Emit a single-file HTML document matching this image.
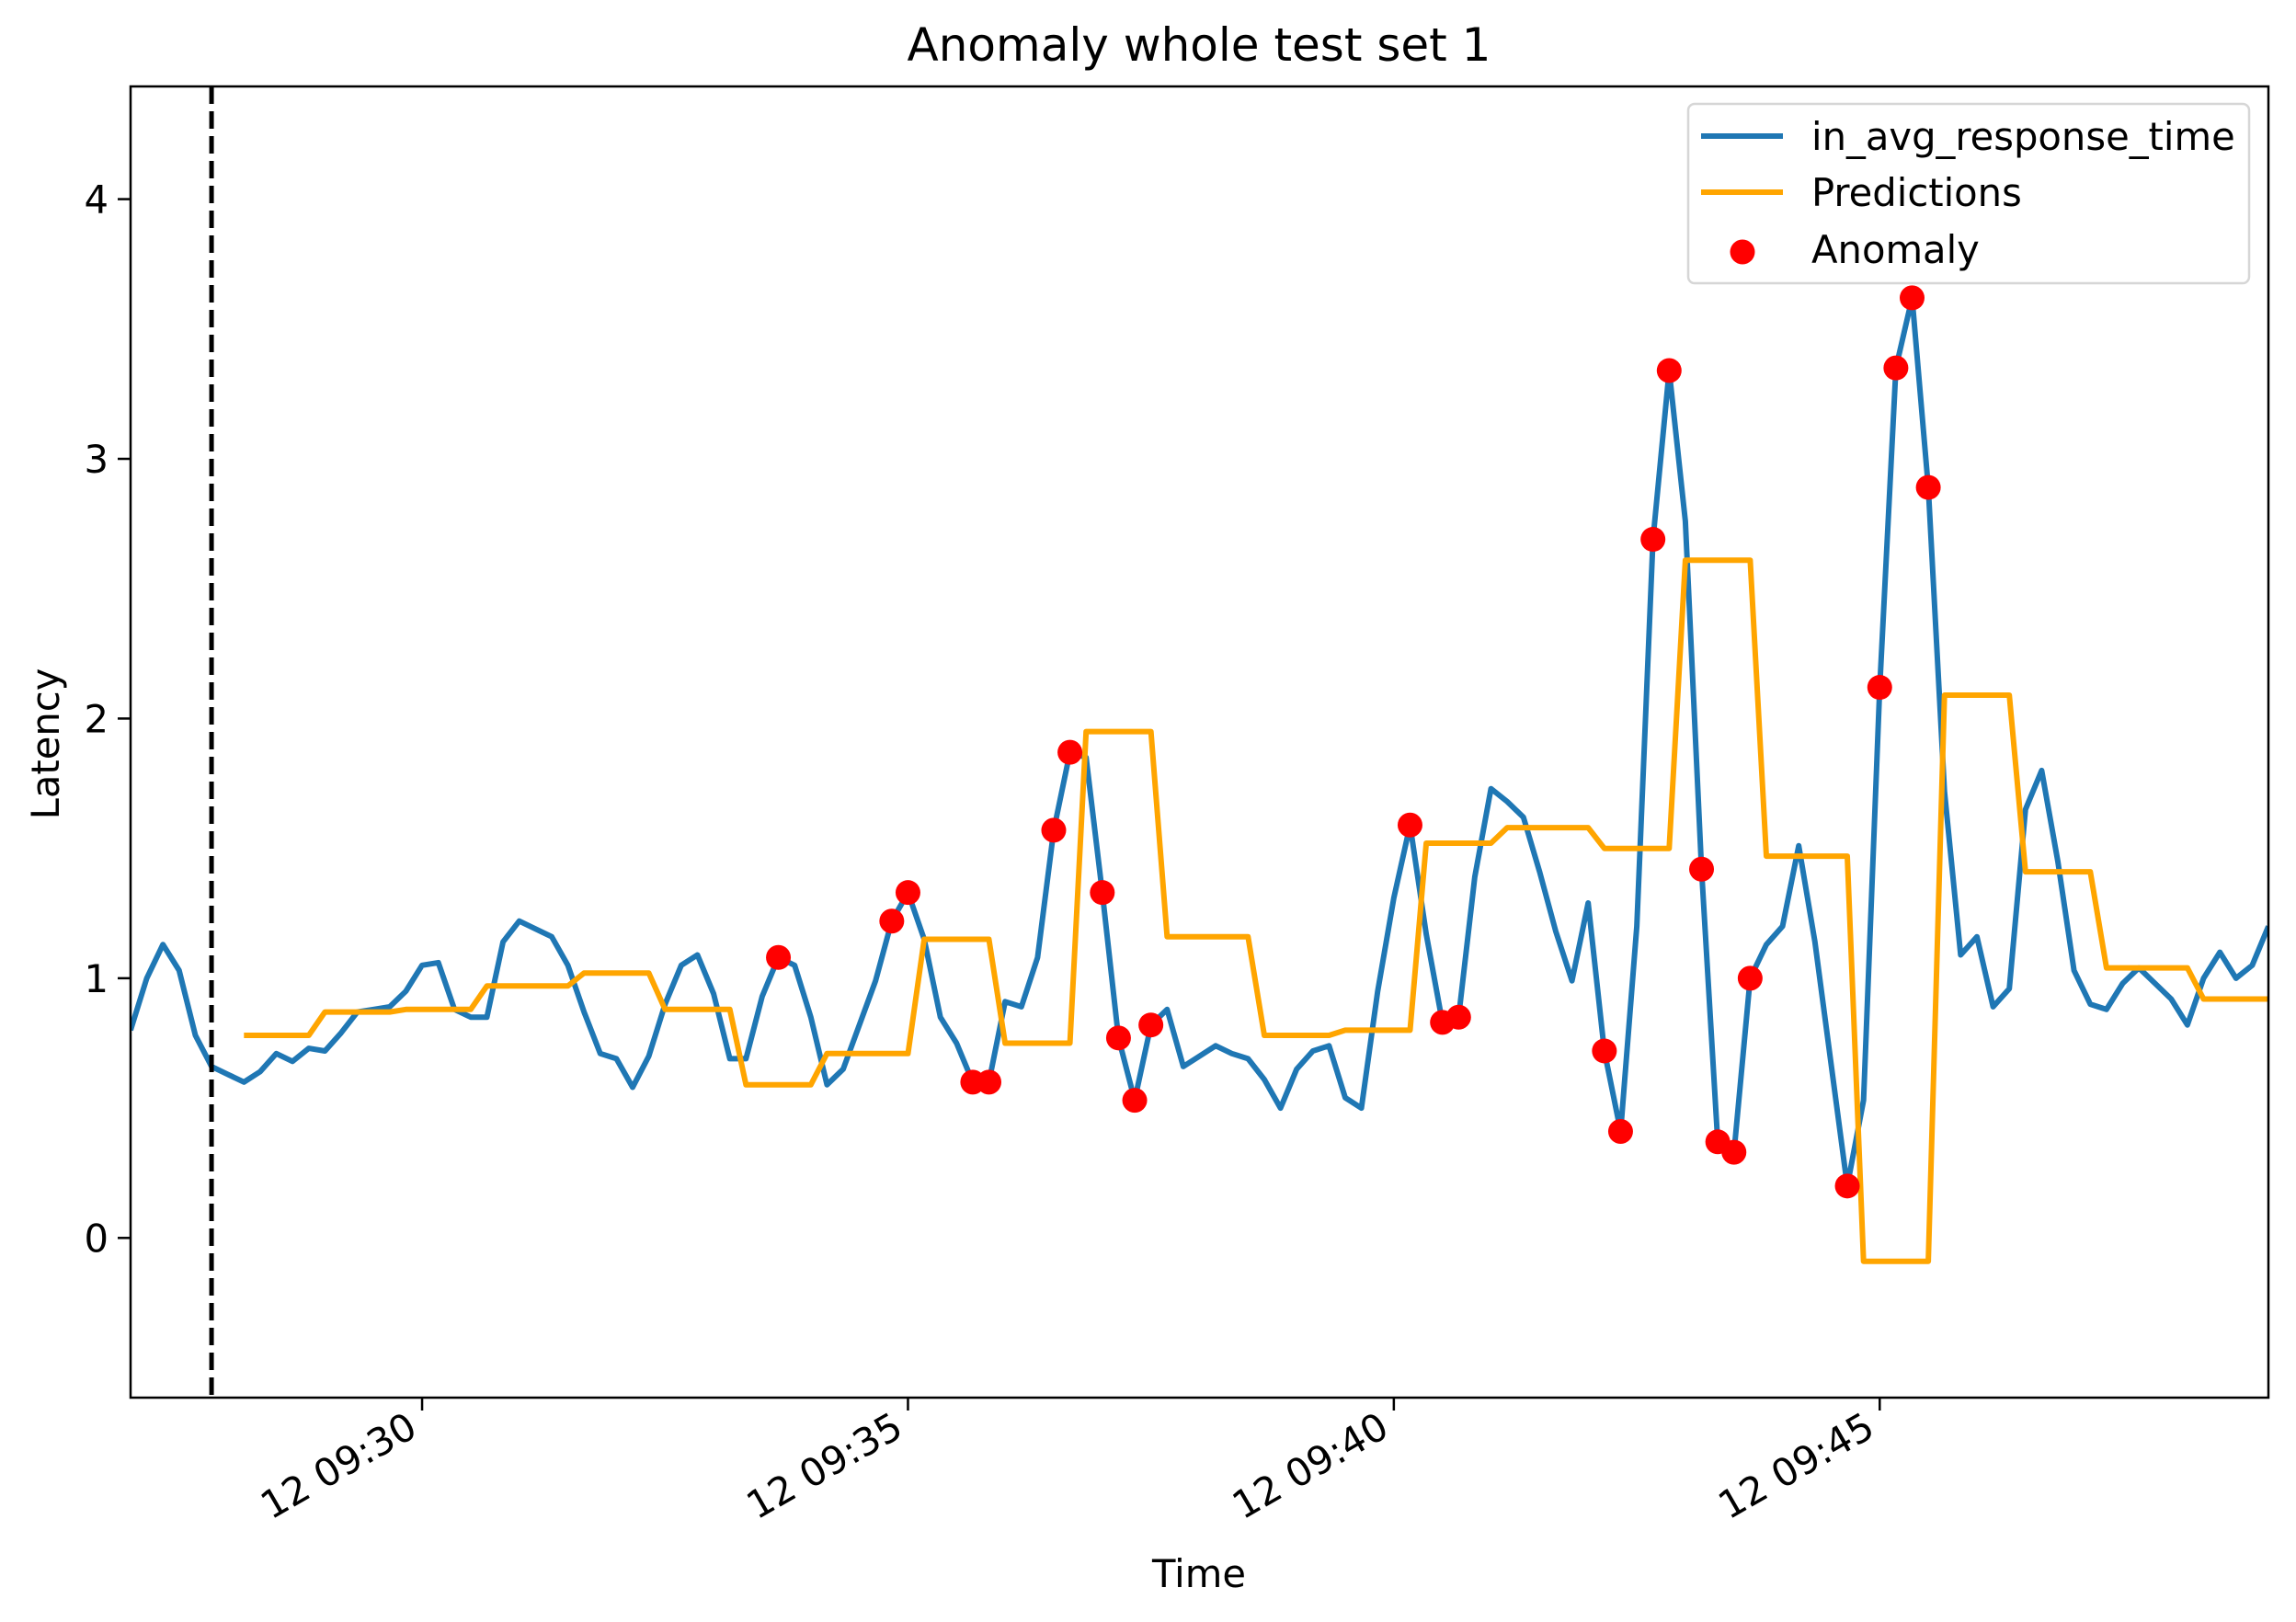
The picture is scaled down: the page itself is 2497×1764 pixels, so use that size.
<!DOCTYPE html>
<html><head><meta charset="utf-8">
<style>html,body{margin:0;padding:0;background:#fff}svg{display:block}text{font-family:"DejaVu Sans","Liberation Sans",sans-serif;fill:#000}</style>
</head><body>
<svg id="chart" width="2497" height="1764" viewBox="0 0 2497 1764" xmlns="http://www.w3.org/2000/svg">
<rect x="0" y="0" width="2497" height="1764" fill="#fff"/>
<text x="1304" y="66" font-size="50" text-anchor="middle">Anomaly whole test set 1</text>
<g id="plot"></g>
<text x="1304" y="1726" font-size="41.7" text-anchor="middle">Time</text>
<text x="0" y="0" font-size="41.7" text-anchor="middle" transform="translate(64,809) rotate(-90)">Latency</text>
</svg>
<script>
const actual = [0.80,1.00,1.13,1.03,0.78,0.66,0.63,0.60,0.64,0.71,0.68,0.73,0.72,0.79,0.87,0.88,0.89,0.95,1.05,1.06,
0.88,0.85,0.85,1.14,1.22,1.19,1.16,1.05,0.87,0.71,0.69,0.58,0.70,0.90,1.05,1.09,0.94,0.69,0.69,0.93,
1.08,1.05,0.85,0.59,0.65,0.82,0.99,1.22,1.33,1.15,0.85,0.75,0.60,0.60,0.91,0.89,1.08,1.57,1.87,1.85,
1.33,0.77,0.53,0.82,0.88,0.66,0.70,0.74,0.71,0.69,0.61,0.50,0.65,0.72,0.74,0.54,0.50,0.95,1.31,1.59,
1.17,0.83,0.85,1.39,1.73,1.68,1.62,1.41,1.18,0.99,1.29,0.72,0.41,1.20,2.69,3.34,2.76,1.42,0.37,0.33,
1.00,1.13,1.20,1.51,1.14,0.67,0.20,0.53,2.12,3.35,3.62,2.89,1.72,1.09,1.16,0.89,0.96,1.65,1.80,1.45,
1.03,0.90,0.88,0.98,1.04,0.98,0.92,0.82,1.00,1.10,1.00,1.05,1.20];
const predictions = [null,null,null,null,null,null,null,0.78,0.78,0.78,0.78,0.78,0.87,0.87,0.87,0.87,0.87,0.88,0.88,0.88,
0.88,0.88,0.97,0.97,0.97,0.97,0.97,0.97,1.02,1.02,1.02,1.02,1.02,0.88,0.88,0.88,0.88,0.88,0.59,0.59,
0.59,0.59,0.59,0.71,0.71,0.71,0.71,0.71,0.71,1.15,1.15,1.15,1.15,1.15,0.75,0.75,0.75,0.75,0.75,1.95,
1.95,1.95,1.95,1.95,1.16,1.16,1.16,1.16,1.16,1.16,0.78,0.78,0.78,0.78,0.78,0.80,0.80,0.80,0.80,0.80,
1.52,1.52,1.52,1.52,1.52,1.58,1.58,1.58,1.58,1.58,1.58,1.50,1.50,1.50,1.50,1.50,2.61,2.61,2.61,2.61,
2.61,1.47,1.47,1.47,1.47,1.47,1.47,-0.09,-0.09,-0.09,-0.09,-0.09,2.09,2.09,2.09,2.09,2.09,1.41,1.41,1.41,
1.41,1.41,1.04,1.04,1.04,1.04,1.04,1.04,0.92,0.92,0.92,0.92,0.92];
const anomalyIdx = [40,47,48,52,53,57,58,60,61,62,63,79,81,82,91,92,94,95,97,98,99,100,106,108,109,110,111];
const yTicks = [0,1,2,3,4];
const xTickIdx = [18,48,78,108];
const xTickLabels = ["12 09:30","12 09:35","12 09:40","12 09:45"];
const trainEndIdx = 5;

const L=142,R=2467,T=94,B=1520, yMin=-0.615, yMax=4.434, xMax=132;
const sx=i=>L+i*(R-L)/xMax;
const sy=v=>B-(v-yMin)*(B-T)/(yMax-yMin);
const NS="http://www.w3.org/2000/svg";
const g=document.getElementById('plot');
function mk(tag,attrs,parent){const e=document.createElementNS(NS,tag);for(const k in attrs)e.setAttribute(k,attrs[k]);(parent||g).appendChild(e);return e;}

const clip=mk('clipPath',{id:'clipA'});
mk('rect',{x:L,y:T,width:R-L,height:B-T},clip);

let d=actual.map((v,i)=>(i?'L':'M')+sx(i).toFixed(1)+','+sy(v).toFixed(1)).join('');
const blue=mk('path',{d:d,fill:'none',stroke:'#1f77b4','stroke-width':6,'stroke-linejoin':'round','clip-path':'url(#clipA)'});



let pd='',started=false;
predictions.forEach((v,i)=>{if(v===null)return;pd+=(started?'L':'M')+sx(i).toFixed(1)+','+sy(v).toFixed(1);started=true;});
const orange=mk('path',{d:pd,fill:'none',stroke:'#ffa500','stroke-width':6,'stroke-linejoin':'round','clip-path':'url(#clipA)'});



const dl=mk('line',{x1:sx(trainEndIdx),x2:sx(trainEndIdx),y1:T,y2:B,stroke:'#000','stroke-width':5,'stroke-dasharray':'19,8'});



anomalyIdx.forEach(i=>{
  const c=mk('circle',{cx:sx(i),cy:sy(actual[i]),r:13.5,fill:'#ff0000'});
  
  
});

const fr=mk('rect',{x:L,y:T,width:R-L,height:B-T,fill:'none',stroke:'#000','stroke-width':2.5});



yTicks.forEach(t=>{
  const y=sy(t);
  const tk=mk('line',{x1:L-14,x2:L,y1:y,y2:y,stroke:'#000','stroke-width':2.5});
  
  
  const tx=mk('text',{x:L-24,y:y+15,'font-size':41.7,'text-anchor':'end'});
  tx.textContent=String(t);
  
  
});
xTickIdx.forEach((i,k)=>{
  const x=sx(i);
  const tk=mk('line',{x1:x,x2:x,y1:B,y2:B+14,stroke:'#000','stroke-width':2.5});
  
  
  const tx=mk('text',{x:0,y:0,'font-size':41.7,'text-anchor':'end',transform:`translate(${x-3},${B+40}) rotate(-30)`});
  tx.textContent=xTickLabels[k];
  
  
});

const lg=mk('g',{});


mk('rect',{x:1836,y:113,width:610,height:195,rx:7,fill:'#fff','fill-opacity':0.8,stroke:'#d6d6d6','stroke-width':2.5},lg);
const items=[['in_avg_response_time','#1f77b4','line',148],['Predictions','#ffa500','line',209],['Anomaly','#ff0000','dot',271]];
items.forEach(([lab,col,kind,y])=>{
  const e=mk('g',{},lg);
  
  
  if(kind==='line')mk('line',{x1:1850,x2:1939,y1:y,y2:y,stroke:col,'stroke-width':6},e);
  else mk('circle',{cx:1895,cy:y+3,r:13.5,fill:col},e);
  const t=mk('text',{x:1970,y:y+15,'font-size':41.7},e);
  t.textContent=lab;
});
</script>
</body></html>
